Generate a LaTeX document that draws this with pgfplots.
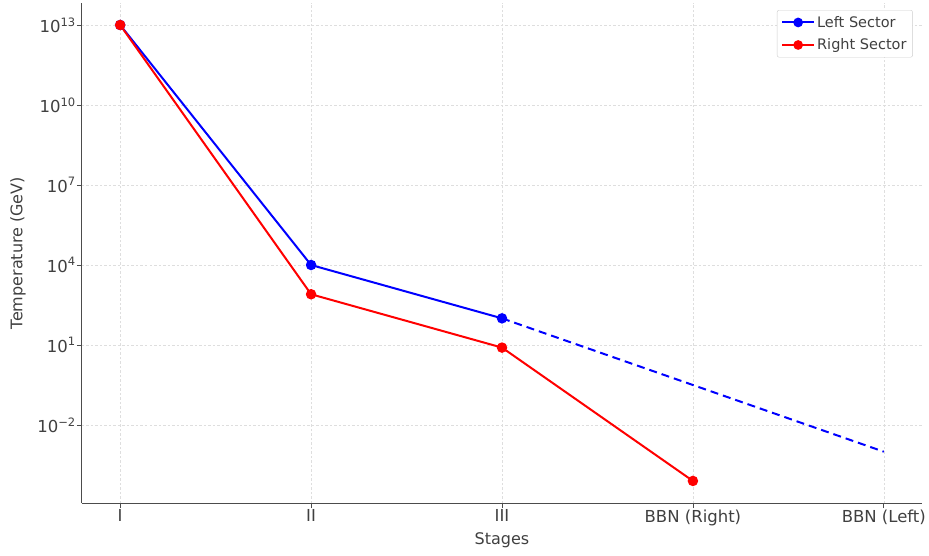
\documentclass[border=0pt]{standalone}
\usepackage{pgfplots}
\pgfplotsset{compat=1.18}
\usepackage{fontspec}
\setmainfont{DejaVu Sans}
\definecolor{txt}{gray}{0.25}
\begin{document}
\begin{tikzpicture}[x=1pt,y=1pt]
\begin{axis}[
  scale only axis,
  width=840pt, height=500pt,
  ymode=log,
  xmin=-0.2, xmax=4.2,
  ymin=1.19e-5, ymax=6.68e13,
  axis x line*=bottom, axis y line*=left,
  axis line style={-, draw=black!70, line width=1pt},
  xtick={0,1,2,3,4},
  xticklabels={I,II,III,BBN (Right),BBN (Left)},
  ytick={1e-2,1e1,1e4,1e7,1e10,1e13},
  yticklabels={10\textsuperscript{−2},10\textsuperscript{1},10\textsuperscript{4},10\textsuperscript{7},10\textsuperscript{10},10\textsuperscript{13}},
  minor ytick={},
  tick align=outside,
  major tick length=5pt,
  tick style={draw=black!70, line width=0.8pt},
  every tick label/.append style={font=\fontsize{16.5}{18}\selectfont, text=txt},
  yticklabel style={inner xsep=1pt},
  xticklabel style={inner ysep=1.5pt},
  xlabel={Stages}, ylabel={Temperature (GeV)},
  label style={font=\fontsize{16}{18}\selectfont, text=txt},
  xlabel style={at={(axis description cs:0.5,0)}, yshift=-37pt, anchor=center},
  ylabel style={at={(axis description cs:0,0.5)}, yshift=64pt, anchor=center},
  grid=major,
  major grid style={dash pattern=on 2.5pt off 2pt, draw=black!13, line width=0.6pt},
  legend style={at={(0.989,0.986)}, anchor=north east, draw=black!20, rounded corners=2pt,
    font=\fontsize{14.5}{16}\selectfont, text=txt, row sep=6pt, inner xsep=4pt, inner ysep=4pt},
  legend cell align=left,
  legend image code/.code={\draw[#1, line width=2pt] (0pt,0pt) -- (32pt,0pt); \draw[#1, mark=*, mark size=3.8pt] plot coordinates {(16pt,0pt)};},
]
\addplot[blue, line width=2pt, mark=*, mark size=4.2pt] coordinates {(0,1e13) (1,1e4) (2,100)};
\addlegendentry{Left Sector}
\addplot[red, line width=2pt, mark=*, mark size=4.2pt] coordinates {(0,1e13) (1,800) (2,8) (3,8e-5)};
\addlegendentry{Right Sector}
\addplot[blue, line width=2pt, dash pattern=on 8pt off 5pt, forget plot] coordinates {(2,100) (4,1e-3)};
\end{axis}
\pgfresetboundingbox
\path ([xshift=-82pt,yshift=-52pt]current axis.south west) rectangle ([xshift=7pt,yshift=3pt]current axis.north east);
\end{tikzpicture}
\end{document}
